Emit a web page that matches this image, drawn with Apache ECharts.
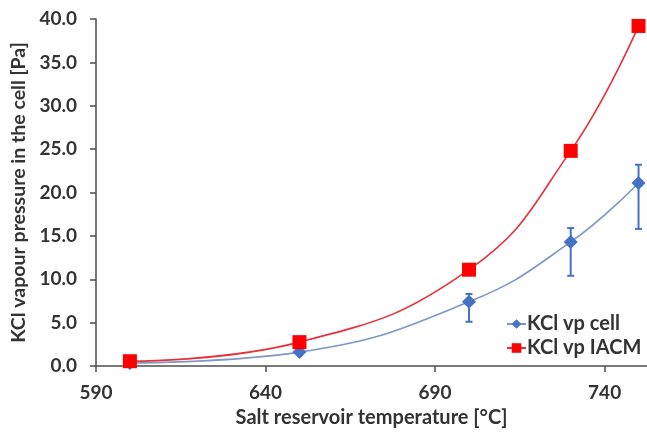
<!DOCTYPE html>
<html>
<head>
<meta charset="utf-8">
<script src="https://cdn.jsdelivr.net/npm/echarts@6/dist/echarts.min.js"></script>
<style>
  html, body { margin: 0; padding: 0; background: #fff; }
  #chart { width: 647px; height: 434px; }
</style>
</head>
<body>
<div id="chart"></div>
<script>
// Salt reservoir temperatures (°C)
const temperatures = [600, 650, 700, 730, 750];
// KCl vapour pressure measured in the cell (Pa)
const cellPressure = [0.35, 1.6, 7.4, 14.3, 21.1];
// Error bar limits for the cell measurements (Pa); null = no bar
const cellLow  = [null, null, 5.1, 10.4, 15.8];
const cellHigh = [null, null, 8.3, 15.9, 23.2];
// KCl vapour pressure from IACM (Pa)
const iacmPressure = [0.55, 2.75, 11.1, 24.8, 39.2];

const FONT = 'Lato';
const TEXT = '#333333';
const BLUE = '#4472C4';
const RED = '#FF0000';

const pairs = (xs, ys) => xs.map((x, i) => [x, ys[i]]);

const errorData = temperatures
  .map((t, i) => [t, cellLow[i], cellHigh[i]])
  .filter(d => d[1] != null && d[2] != null);

const chart = echarts.init(document.getElementById('chart'), null, { renderer: 'canvas' });

chart.setOption({
  animation: false,
  backgroundColor: '#ffffff',
  grid: { left: 96, right: 0, top: 19, bottom: 68, containLabel: false },
  xAxis: {
    type: 'value',
    min: 590,
    max: 752.5,
    interval: 50,
    name: 'Salt reservoir temperature [°C]',
    nameLocation: 'middle',
    nameGap: 42,
    nameTextStyle: { fontFamily: FONT, fontWeight: 'bold', fontSize: 20, color: TEXT },
    axisLine: { onZero: false, lineStyle: { color: '#4d4d4d', width: 1.5 } },
    axisTick: { show: true, inside: false, length: 6, lineStyle: { color: '#4d4d4d', width: 1.5 } },
    axisLabel: { fontFamily: FONT, fontWeight: 'bold', fontSize: 19, color: TEXT, margin: 17, showMaxLabel: false },
    splitLine: { show: false }
  },
  yAxis: {
    type: 'value',
    min: 0,
    max: 40,
    interval: 5,
    name: 'KCl vapour pressure in the cell [Pa]',
    nameLocation: 'middle',
    nameGap: 63,
    nameTextStyle: { fontFamily: FONT, fontWeight: 'bold', fontSize: 19.5, color: TEXT },
    axisLine: { show: true, lineStyle: { color: '#4d4d4d', width: 1.5 } },
    axisTick: { show: true, inside: false, length: 6, lineStyle: { color: '#4d4d4d', width: 1.5 } },
    axisLabel: {
      fontFamily: FONT, fontWeight: 'bold', fontSize: 19, color: TEXT, margin: 19,
      formatter: v => v.toFixed(1)
    },
    splitLine: { show: false }
  },
  legend: {
    orient: 'vertical',
    left: 501,
    top: 309,
    itemGap: 4,
    itemWidth: 19,
    itemHeight: 12,
    textStyle: { fontFamily: FONT, fontWeight: 'bold', fontSize: 20, color: TEXT, padding: [0, 0, 0, -4] },
    data: ['KCl vp cell', 'KCl vp IACM']
  },
  series: [
    {
      name: 'cell error',
      type: 'custom',
      z: 2,
      data: errorData,
      renderItem: (params, api) => {
        const x = api.value(0);
        const lo = api.coord([x, api.value(1)]);
        const hi = api.coord([x, api.value(2)]);
        const cap = 3.5;
        const style = { stroke: BLUE, lineWidth: 2 };
        return {
          type: 'group',
          children: [
            { type: 'line', shape: { x1: lo[0], y1: lo[1], x2: hi[0], y2: hi[1] }, style },
            { type: 'line', shape: { x1: lo[0] - cap, y1: lo[1], x2: lo[0] + cap, y2: lo[1] }, style },
            { type: 'line', shape: { x1: hi[0] - cap, y1: hi[1], x2: hi[0] + cap, y2: hi[1] }, style }
          ]
        };
      }
    },
    {
      name: 'KCl vp cell',
      type: 'line',
      z: 3,
      smooth: 0.45,
      data: pairs(temperatures, cellPressure),
      symbol: 'diamond',
      symbolSize: 14,
      lineStyle: { color: '#7f97c4', width: 1.6 },
      itemStyle: { color: BLUE, borderWidth: 0 }
    },
    {
      name: 'KCl vp IACM',
      type: 'line',
      z: 4,
      smooth: 0.45,
      data: pairs(temperatures, iacmPressure),
      symbol: 'rect',
      symbolSize: 14,
      lineStyle: { color: '#e8303a', width: 1.6 },
      itemStyle: { color: RED, borderWidth: 0 }
    }
  ]
});
</script>
</body>
</html>
